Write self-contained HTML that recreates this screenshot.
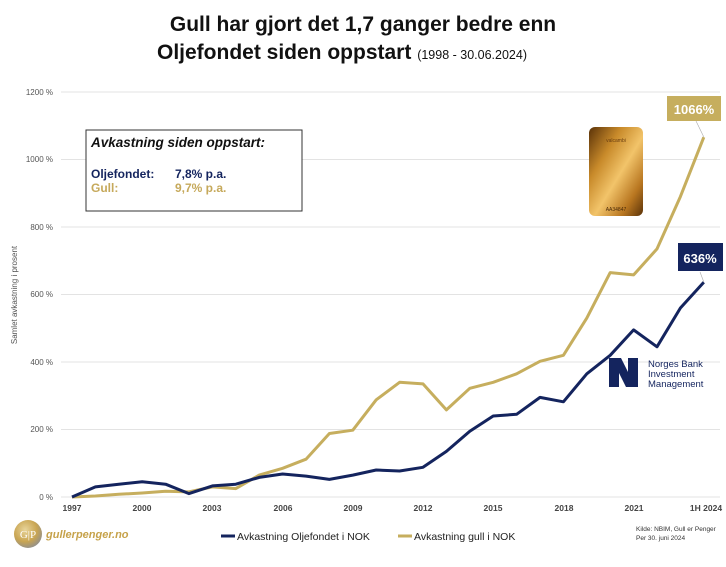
<!DOCTYPE html>
<html><head><meta charset="utf-8"><style>
body{margin:0;background:#fff;width:726px;height:562px;overflow:hidden;font-family:"Liberation Sans",sans-serif}
</style></head><body>
<svg width="726" height="562" xmlns="http://www.w3.org/2000/svg" font-family="Liberation Sans, sans-serif">
<defs>
<linearGradient id="gb" x1="0" y1="0" x2="1" y2="1">
<stop offset="0" stop-color="#5a3208"/><stop offset="0.3" stop-color="#c88a2a"/><stop offset="0.55" stop-color="#f2c46a"/><stop offset="0.8" stop-color="#b87620"/><stop offset="1" stop-color="#5a3208"/>
</linearGradient>
<radialGradient id="lg" cx="0.4" cy="0.35" r="0.7"><stop offset="0" stop-color="#e8d49a"/><stop offset="0.6" stop-color="#c9a552"/><stop offset="1" stop-color="#8f8f8f"/></radialGradient>
</defs>
<text x="363" y="31" text-anchor="middle" font-size="21" font-weight="bold" fill="#111">Gull har gjort det 1,7 ganger bedre enn</text>
<text x="157" y="59" font-size="21" font-weight="bold" fill="#111">Oljefondet siden oppstart <tspan font-size="12.5" font-weight="normal">(1998 - 30.06.2024)</tspan></text>
<g stroke="#e3e3e3" stroke-width="1">
<line x1="61" y1="92" x2="720" y2="92"/><line x1="61" y1="159.5" x2="720" y2="159.5"/><line x1="61" y1="227" x2="720" y2="227"/><line x1="61" y1="294.5" x2="720" y2="294.5"/><line x1="61" y1="362" x2="720" y2="362"/><line x1="61" y1="429.5" x2="720" y2="429.5"/><line x1="61" y1="497" x2="720" y2="497"/>
</g>
<g font-size="8" fill="#555" text-anchor="end">
<text x="53" y="95">1200 %</text><text x="53" y="162">1000 %</text><text x="53" y="230">800 %</text><text x="53" y="297">600 %</text><text x="53" y="365">400 %</text><text x="53" y="432">200 %</text><text x="53" y="500">0 %</text>
</g>
<text transform="translate(17,295) rotate(-90)" font-size="8" fill="#555" text-anchor="middle">Samlet avkastning i prosent</text>
<g font-size="8.5" fill="#444" font-weight="bold" text-anchor="middle">
<text x="72" y="511">1997</text><text x="142" y="511">2000</text><text x="212" y="511">2003</text><text x="283" y="511">2006</text><text x="353" y="511">2009</text><text x="423" y="511">2012</text><text x="493" y="511">2015</text><text x="564" y="511">2018</text><text x="634" y="511">2021</text><text x="706" y="511">1H 2024</text>
</g>
<rect x="86" y="130" width="216" height="81" fill="#fff" stroke="#333" stroke-width="1"/>
<text x="91" y="147" font-size="13.5" font-weight="bold" font-style="italic" fill="#111">Avkastning siden oppstart:</text>
<text x="91" y="178" font-size="12" font-weight="bold" fill="#14245e">Oljefondet:</text>
<text x="175" y="178" font-size="12" font-weight="bold" fill="#14245e">7,8% p.a.</text>
<text x="91" y="192" font-size="12" font-weight="bold" fill="#c6a95b">Gull:</text>
<text x="175" y="192" font-size="12" font-weight="bold" fill="#c6a95b">9,7% p.a.</text>
<rect x="589" y="127" width="54" height="89" rx="6" fill="url(#gb)"/>
<text x="616" y="142" font-size="5" text-anchor="middle" fill="#6a3e10">valcambi</text>
<text x="616" y="211" font-size="5" text-anchor="middle" fill="#4a2a08">AA34847</text>
<polyline fill="none" stroke="#c6ae5e" stroke-width="3" stroke-linejoin="round" points="72,497 95.4,496 118.8,494.3 142.2,493 165.6,491.3 189,491.9 212.4,486.9 235.8,488.6 259.2,475.1 282.6,468.3 306,459.2 329.4,433.5 352.8,430.2 376.2,399.8 399.6,382.3 423,383.9 446.4,409.9 469.8,388.3 493.2,382.3 516.6,373.8 540,361.3 563.4,355.3 586.8,318.1 610.2,272.6 633.6,274.9 657,248.9 680.4,196.6 703.8,137.2"/>
<polyline fill="none" stroke="#14245e" stroke-width="3" stroke-linejoin="round" points="72,497 95.4,486.9 118.8,484.2 142.2,481.8 165.6,484.2 189,493.6 212.4,485.9 235.8,484.2 259.2,477.4 282.6,474 306,476.1 329.4,479.4 352.8,475.1 376.2,470 399.6,471 423,467.3 446.4,451.4 469.8,431.2 493.2,416 516.6,414.3 540,397.4 563.4,401.8 586.8,373.8 610.2,355.3 633.6,329.9 657,346.8 680.4,308 703.8,282.3"/>
<line x1="703.8" y1="137" x2="696" y2="121" stroke="#aaa" stroke-width="0.6"/>
<line x1="703.8" y1="282" x2="700" y2="272" stroke="#aaa" stroke-width="0.6"/>
<rect x="667" y="96" width="54" height="25" fill="#c6ae5e"/>
<text x="694" y="114" font-size="13" font-weight="bold" fill="#fff" text-anchor="middle">1066%</text>
<rect x="678" y="243" width="45" height="28" fill="#14245e"/>
<text x="700" y="263" font-size="13" font-weight="bold" fill="#fff" text-anchor="middle">636%</text>
<polygon points="609,358 621,358 628,372 628,358 638,358 638,387 626,387 619,373 619,387 609,387" fill="#14245e"/>
<text x="648" y="367" font-size="9.5" fill="#14245e">Norges Bank</text>
<text x="648" y="377" font-size="9.5" fill="#14245e">Investment</text>
<text x="648" y="387" font-size="9.5" fill="#14245e">Management</text>
<circle cx="28" cy="534" r="14" fill="url(#lg)"/>
<text x="28" y="538" font-size="11" text-anchor="middle" fill="#fff" font-family="Liberation Serif, serif">G|P</text>
<text x="46" y="538" font-size="11" font-style="italic" font-weight="bold" fill="#c6a24a">gullerpenger.no</text>
<line x1="221" y1="536" x2="235" y2="536" stroke="#14245e" stroke-width="3"/>
<text x="237" y="540" font-size="10.5" fill="#222">Avkastning Oljefondet i NOK</text>
<line x1="398" y1="536" x2="412" y2="536" stroke="#c6ae5e" stroke-width="3"/>
<text x="414" y="540" font-size="10.5" fill="#222">Avkastning gull i NOK</text>
<text x="636" y="531" font-size="6.5" fill="#333">Kilde: NBIM, Gull er Penger</text>
<text x="636" y="540" font-size="6.5" fill="#333">Per 30. juni 2024</text>
</svg>
</body></html>
